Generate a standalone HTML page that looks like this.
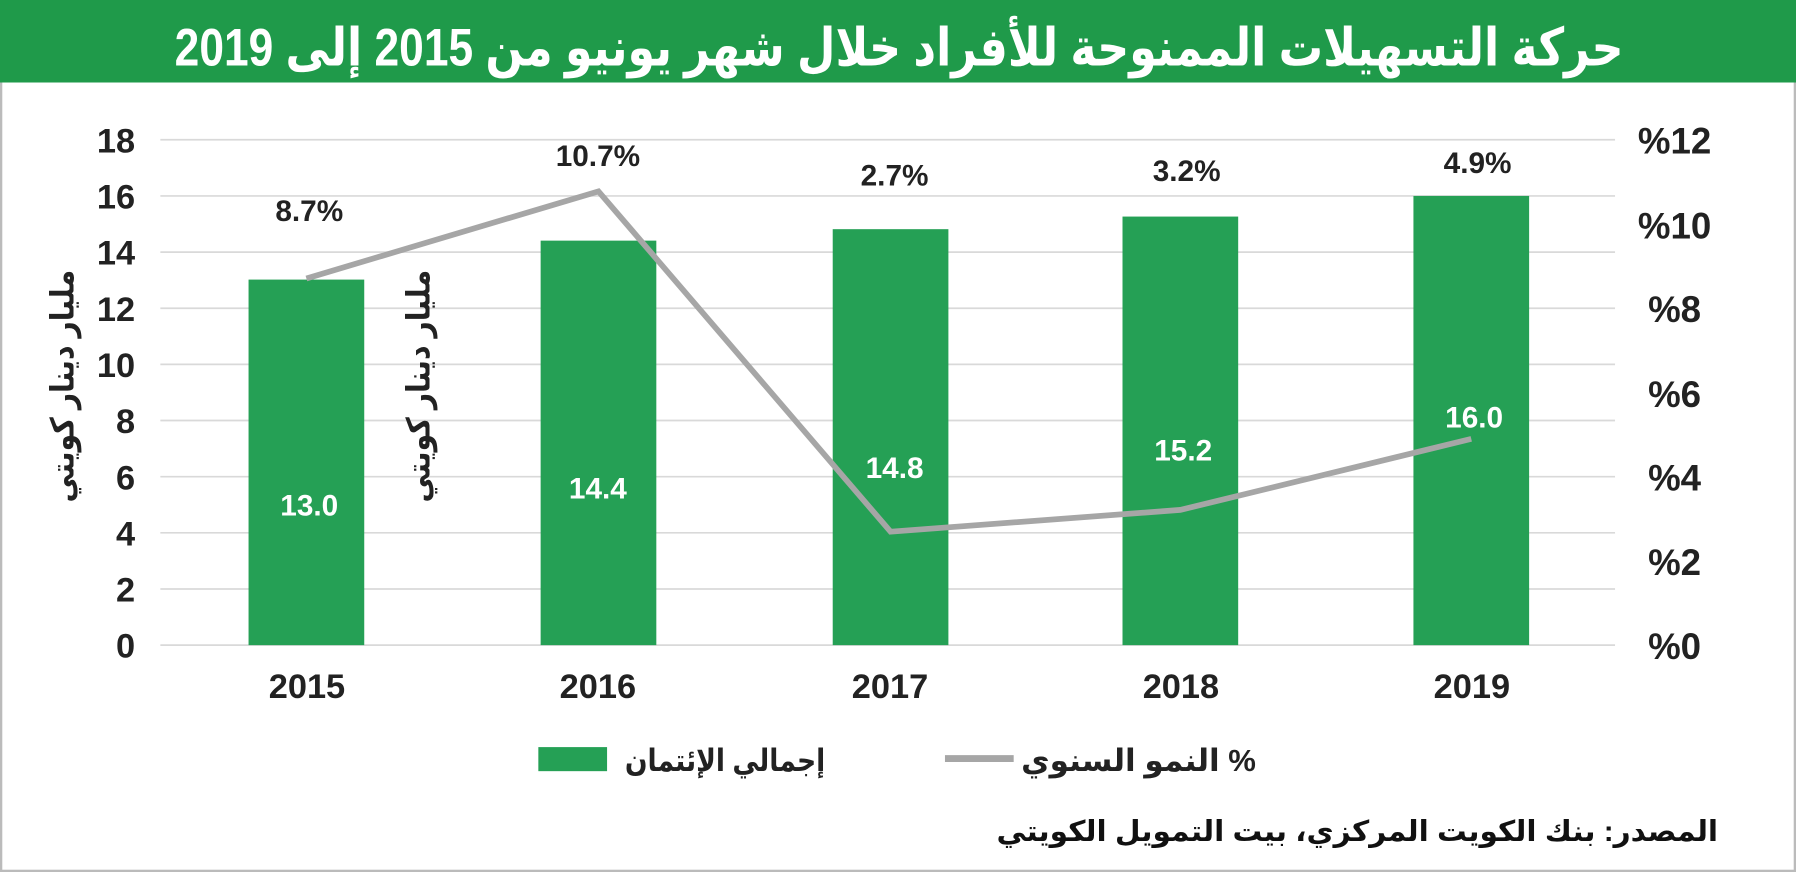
<!DOCTYPE html>
<html><head><meta charset="utf-8"><style>
html,body{margin:0;padding:0;background:#fff;}
svg{display:block;}
text{font-family:"Liberation Sans","Noto Sans CJK SC","DejaVu Sans",sans-serif;font-weight:bold;}
</style></head><body>
<svg width="1796" height="872" viewBox="0 0 1568 761" preserveAspectRatio="none" xmlns="http://www.w3.org/2000/svg">
<rect x="0" y="0" width="1568" height="761" fill="#fff"/>
<rect x="1" y="1" width="1566" height="759" fill="none" stroke="#bbb" stroke-width="2"/>
<rect x="0" y="0" width="1568" height="72" fill="#1f9a4a"/>
<text x="785" y="57" text-anchor="middle" font-size="46" fill="#fff" textLength="1265" lengthAdjust="spacingAndGlyphs">حركة التسهيلات الممنوحة للأفراد خلال شهر يونيو من 2015 إلى 2019</text>
<g stroke="#d9d9d9" stroke-width="1.5">
<line x1="140" x2="1410" y1="122" y2="122"/><line x1="140" x2="1410" y1="171" y2="171"/><line x1="140" x2="1410" y1="220" y2="220"/><line x1="140" x2="1410" y1="269" y2="269"/><line x1="140" x2="1410" y1="318" y2="318"/><line x1="140" x2="1410" y1="367" y2="367"/><line x1="140" x2="1410" y1="416" y2="416"/><line x1="140" x2="1410" y1="465" y2="465"/><line x1="140" x2="1410" y1="514" y2="514"/><line x1="140" x2="1410" y1="563" y2="563"/>
</g>
<g font-size="30" fill="#222" text-anchor="end">
<text x="118" y="133">18</text><text x="118" y="182">16</text><text x="118" y="231">14</text><text x="118" y="280">12</text><text x="118" y="329">10</text><text x="118" y="378">8</text><text x="118" y="427">6</text><text x="118" y="476">4</text><text x="118" y="525">2</text><text x="118" y="574">0</text>
</g>
<g font-size="32" fill="#222" text-anchor="middle">
<text x="1462" y="134">%12</text><text x="1462" y="208">%10</text><text x="1462" y="281">%8</text><text x="1462" y="355">%6</text><text x="1462" y="428">%4</text><text x="1462" y="502">%2</text><text x="1462" y="575">%0</text>
</g>
<g fill="#25a055">
<rect x="217" y="244" width="101" height="319"/>
<rect x="472" y="210" width="101" height="353"/>
<rect x="727" y="200" width="101" height="363"/>
<rect x="980" y="189" width="101" height="374"/>
<rect x="1234" y="171" width="101" height="392"/>
</g>
<polyline points="267.5,243 522.5,167 777.5,464 1030.5,445 1284.5,383" fill="none" stroke="#a6a6a6" stroke-width="5"/>
<g font-size="26" fill="#fff" text-anchor="middle">
<text x="270" y="450">13.0</text><text x="522" y="435">14.4</text><text x="781" y="417">14.8</text><text x="1033" y="402">15.2</text><text x="1287" y="373">16.0</text>
</g>
<g font-size="26" fill="#222" text-anchor="middle">
<text x="270" y="193">8.7%</text><text x="522" y="145">10.7%</text><text x="781" y="162">2.7%</text><text x="1036" y="158">3.2%</text><text x="1290" y="151">4.9%</text>
</g>
<g font-size="30" fill="#222" text-anchor="middle">
<text x="268" y="609">2015</text><text x="522" y="609">2016</text><text x="777" y="609">2017</text><text x="1031" y="609">2018</text><text x="1285" y="609">2019</text>
</g>
<text transform="translate(64,337) rotate(-90)" text-anchor="middle" font-size="28" fill="#222" textLength="203" lengthAdjust="spacingAndGlyphs">مليار دينار كويتي</text>
<text transform="translate(375,337) rotate(-90)" text-anchor="middle" font-size="28" fill="#222" textLength="203" lengthAdjust="spacingAndGlyphs">مليار دينار كويتي</text>
<rect x="470" y="652" width="60" height="21" fill="#25a055"/>
<text x="633" y="673" text-anchor="middle" font-size="27" fill="#222" textLength="175" lengthAdjust="spacingAndGlyphs">إجمالي الإئتمان</text>
<line x1="825" x2="885" y1="662" y2="662" stroke="#a6a6a6" stroke-width="6"/>
<text x="994" y="673" text-anchor="middle" font-size="27" fill="#222" textLength="205" lengthAdjust="spacingAndGlyphs">النمو السنوي %</text>
<text x="1185" y="734" text-anchor="middle" font-size="25" fill="#111" textLength="630" lengthAdjust="spacingAndGlyphs">المصدر: بنك الكويت المركزي، بيت التمويل الكويتي</text>
</svg>
</body></html>
